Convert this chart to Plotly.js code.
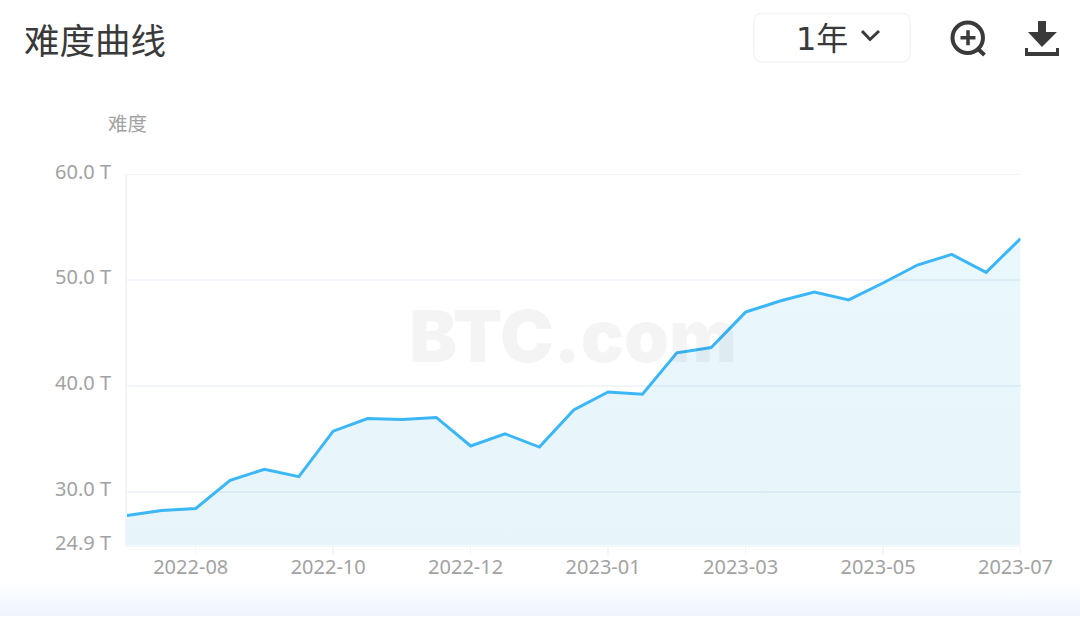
<!DOCTYPE html>
<html>
<head>
<meta charset="utf-8">
<script src="https://cdn.plot.ly/plotly-3.0.1.min.js"></script>
<style>
html,body{margin:0;padding:0;background:#fff;width:1080px;height:626px;overflow:hidden}
#band{position:absolute;left:0;top:583px;width:1080px;height:33px;background:linear-gradient(#ffffff,#edf4fc)}
#chart{position:absolute;left:0;top:0;width:1080px;height:626px}
#chart .ytick{transform:translateY(-2.5px)}
</style>
</head>
<body>
<div id="band"></div>
<div id="chart"></div>
<script>
const dates = ['2022-07-01','2022-07-16','2022-08-01','2022-08-16','2022-09-01','2022-09-16','2022-10-01','2022-10-16','2022-11-01','2022-11-16','2022-12-01','2022-12-16','2023-01-01','2023-01-16','2023-02-01','2023-02-16','2023-03-01','2023-03-16','2023-04-01','2023-04-16','2023-05-01','2023-05-16','2023-06-01','2023-06-16','2023-07-01','2023-07-16','2023-08-01'];
const difficulty = [27.74,28.2,28.4,31.05,32.1,31.4,35.7,36.9,36.8,37.0,34.3,35.45,34.2,37.7,39.4,39.2,43.1,43.6,46.95,48.0,48.85,48.1,49.7,51.4,52.4,50.7,53.9];
const xTickVals = ['2022-08-01','2022-10-01','2022-12-01','2023-02-01','2023-04-01','2023-06-01','2023-08-01'];
const xTickText = ['2022-08','2022-10','2022-12','2023-01','2023-03','2023-05','2023-07'];
const yTickVals = [24.9,30,40,50,60];
const yTickText = ['24.9 T','30.0 T','40.0 T','50.0 T','60.0 T'];

const W = 1080, H = 626;
const px = x => x / W, py = y => 1 - y / H;
const sans = '"Noto Sans","Open Sans",sans-serif';
const cjk = '"Noto Sans CJK SC",sans-serif';
const grey = '#a2a2a2', dark = '#3a3a3a', faint = '#f1f4f8';

function pathPx(d){
  return d.replace(/(-?[\d.]+) (-?[\d.]+)/g,(m,a,b)=>px(+a).toFixed(5)+','+py(+b).toFixed(5));
}
function shapePath(d,opt){ return Object.assign({type:'path',xref:'paper',yref:'paper',path:pathPx(d),layer:'above',line:{width:0}},opt); }

const shapes = [
  {type:'line',xref:'paper',yref:'y',x0:px(127),x1:px(1020),y0:60,y1:60,line:{color:faint,width:2},layer:'below'},
  shapePath('M 762 13.5 L 902 13.5 Q 910 13.5 910 21.5 L 910 54 Q 910 62 902 62 L 762 62 Q 754 62 754 54 L 754 21.5 Q 754 13.5 762 13.5 Z',{line:{color:'#f1f4f9',width:1.5}}),
  shapePath('M 862 31 L 870 39.5 L 879 31',{line:{color:dark,width:3}}),
  {type:'circle',xref:'paper',yref:'paper',x0:px(952.5),x1:px(983),y0:py(53),y1:py(22.5),line:{color:dark,width:4},layer:'above'},
  shapePath('M 960.5 37.8 L 975.5 37.8 M 968 30.3 L 968 45.3',{line:{color:dark,width:3.5}}),
  shapePath('M 978 49 L 984.5 55',{line:{color:dark,width:4}}),
  shapePath('M 1038 21 L 1046 21 L 1046 32 L 1057 32 L 1042 47 L 1028 32 L 1038 32 Z',{fillcolor:dark}),
  shapePath('M 1025 48 L 1028 48 L 1028 52 L 1056 52 L 1056 48 L 1059 48 L 1059 56 L 1025 56 Z',{fillcolor:dark})
];

const annotations = [
  {text:'难度曲线',x:px(23),y:py(38.5),xanchor:'left',yanchor:'middle',font:{family:cjk,size:35.5,color:dark}},
  {text:'难度',x:px(107),y:py(122.5),xanchor:'left',yanchor:'middle',font:{family:cjk,size:19.5,color:grey}},
  {text:'1年',x:px(795),y:py(39),xanchor:'left',yanchor:'middle',font:{family:'"DejaVu Sans","Noto Sans CJK SC",sans-serif',size:32,color:dark}},
  {text:'BTC.com',x:px(572.5),y:py(335),xanchor:'center',yanchor:'middle',font:{family:'Inter,Lato,sans-serif',size:72,weight:900,color:'rgba(0,0,0,0.045)'}}
].map(a=>Object.assign({xref:'paper',yref:'paper',showarrow:false,borderpad:0},a));

const trace = {
  type:'scatter', mode:'lines', x:dates, y:difficulty,
  line:{color:'#3bb6f6',width:3,shape:'linear'},
  fill:'tozeroy',
  fillgradient:{type:'vertical',colorscale:[[0,'rgba(0,125,185,0.10)'],[1,'rgba(60,190,245,0.11)']]},
  hoverinfo:'skip', cliponaxis:true
};

const layout = {
  width:W,height:H,autosize:false,
  margin:{l:0,r:0,t:0,b:0,pad:0},
  paper_bgcolor:'rgba(0,0,0,0)',plot_bgcolor:'rgba(0,0,0,0)',
  showlegend:false,
  xaxis:{
    type:'category',categoryorder:'array',categoryarray:dates,
    domain:[px(127),px(1020.5)],range:[0,26],
    tickmode:'array',tickvals:xTickVals,ticktext:xTickText,
    ticks:'outside',ticklen:8,tickwidth:1.5,tickcolor:faint,
    ticklabelstandoff:-5,ticklabelshift:-5,
    showgrid:false,zeroline:false,showline:true,linecolor:faint,linewidth:1.5,
    tickfont:{family:sans,size:20,color:grey},tickangle:0,automargin:false
  },
  yaxis:{
    type:'linear',domain:[py(545.5),py(174)],range:[24.9,60],
    tickmode:'array',tickvals:yTickVals,ticktext:yTickText,
    ticks:'',ticklabelstandoff:10,
    showgrid:true,gridcolor:faint,gridwidth:2,zeroline:false,
    showline:true,linecolor:faint,linewidth:2,
    tickfont:{family:sans,size:20,color:grey},automargin:false
  },
  shapes:shapes,annotations:annotations
};
Plotly.newPlot('chart',[trace],layout,{displayModeBar:false,staticPlot:true});
</script>
</body>
</html>
